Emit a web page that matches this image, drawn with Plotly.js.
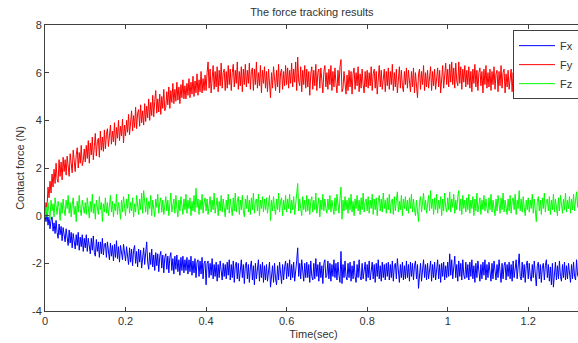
<!DOCTYPE html>
<html>
<head>
<meta charset="utf-8">
<script src="https://cdn.plot.ly/plotly-3.0.1.min.js"></script>
<style>
html,body{margin:0;padding:0;overflow:hidden;background:#fff;}
#chart{width:582px;height:343px;}
</style>
</head>
<body>
<div id="chart"></div>
<script>
// sampling step of the recorded signals (s)
var dt = 0.0025;

var seriesNames = ['Fx', 'Fy', 'Fz'];

var fx = [
0.00,-0.25,0.10,-0.40,-0.05,-0.55,-0.20,-0.05,-0.65,-0.30,-0.75,-0.20,-0.70,-0.95,-0.35,-0.80,-0.45,-1.05,-0.50,-0.85,
-1.10,-0.55,-1.00,-1.25,-0.60,-1.15,-0.70,-1.35,-0.75,-1.20,-1.40,-0.80,-1.25,-0.70,-1.45,-0.90,-1.30,-0.80,-1.50,-0.95,
-1.35,-0.80,-1.50,-0.95,-1.40,-1.60,-0.95,-1.45,-0.85,-1.55,-1.70,-1.00,-1.50,-1.10,-1.75,-1.10,-1.60,-0.95,-1.65,-1.20,
-1.15,-1.75,-1.10,-1.65,-1.85,-1.15,-1.70,-1.25,-1.90,-1.20,-1.75,-1.05,-1.80,-1.30,-1.95,-1.25,-1.70,-1.85,-1.20,-1.70,
-1.90,-1.30,-1.80,-2.05,-1.35,-1.95,-1.40,-2.10,-1.45,-1.25,-2.00,-1.50,-2.15,-1.40,-1.95,-1.45,-2.20,-1.55,-1.35,-2.05,
-1.50,-1.10,-1.95,-2.25,-1.55,-2.05,-1.40,-2.15,-1.65,-2.30,-1.55,-2.10,-1.60,-2.35,-1.70,-1.50,-2.20,-1.65,-2.40,-1.75,
-1.60,-2.25,-1.70,-2.40,-1.75,-1.55,-2.30,-1.80,-2.45,-1.70,-2.25,-1.65,-2.35,-1.85,-2.50,-1.75,-2.30,-1.70,-2.40,-1.85,
-2.30,-1.75,-2.45,-1.85,-2.35,-1.70,-2.50,-1.90,-2.40,-1.80,-2.60,-1.95,-1.85,-2.55,-1.90,-2.45,-1.75,-2.65,-2.00,-1.90,
-2.90,-2.00,-1.90,-2.60,-2.00,-2.50,-1.80,-2.65,-2.05,-2.55,-1.95,-2.75,-2.05,-2.60,-1.90,-2.50,-2.70,-2.00,-2.55,-2.05,
-2.65,-1.95,-2.50,-1.85,-2.70,-2.05,-2.60,-1.90,-2.80,-2.10,-1.95,-2.65,-2.00,-2.75,-2.15,-1.85,-2.60,-2.05,-2.85,-2.10,
-1.95,-2.65,-2.05,-2.80,-2.15,-1.90,-2.70,-2.10,-2.90,-2.00,-2.65,-2.15,-1.85,-2.75,-2.05,-2.60,-1.95,-2.80,-2.10,-2.70,
-2.05,-2.75,-2.15,-1.95,-3.00,-2.60,-2.10,-2.80,-2.00,-2.65,-2.90,-2.10,-2.70,-1.95,-2.60,-2.85,-2.05,-2.70,-2.15,-1.90,
-2.65,-2.00,-2.55,-1.85,-2.70,-2.05,-2.60,-1.95,-2.75,-2.10,-1.90,-1.35,-2.55,-2.00,-2.65,-1.85,-2.50,-2.75,-2.00,-2.60,
-1.95,-2.60,-2.05,-2.80,-1.90,-2.55,-2.70,-2.00,-2.65,-1.80,-2.55,-2.05,-2.75,-1.95,-2.60,-2.10,-2.85,-2.00,-1.85,-2.60,
-2.50,-1.90,-2.65,-2.00,-2.75,-2.05,-2.55,-1.85,-2.60,-2.00,-2.70,-1.95,-2.50,-2.80,-1.50,-2.85,-2.05,-2.60,-1.90,-2.55,
-2.70,-2.00,-2.60,-1.95,-2.75,-2.10,-2.65,-1.90,-2.55,-2.80,-2.05,-2.60,-1.85,-2.55,-2.70,-2.00,-2.65,-2.10,-1.95,-2.75,
-2.05,-2.60,-1.90,-2.70,-2.10,-1.95,-2.65,-2.05,-2.80,-2.00,-2.55,-1.85,-2.65,-2.10,-2.75,-1.95,-2.60,-2.05,-2.70,-2.00,
-2.55,-1.95,-2.70,-2.05,-2.60,-1.90,-2.75,-2.10,-2.00,-2.65,-1.80,-2.55,-2.80,-2.05,-2.60,-1.95,-2.70,-2.10,-2.65,-1.90,
-2.60,-2.05,-2.75,-1.95,-2.55,-2.00,-2.70,-2.10,-1.90,-2.65,-2.05,-3.05,-2.55,-2.00,-2.75,-2.10,-1.85,-2.60,-2.05,-2.70,
-2.00,-2.65,-2.10,-1.90,-2.75,-2.05,-2.60,-1.95,-2.70,-2.15,-1.85,-2.65,-2.05,-2.80,-2.00,-2.55,-1.95,-2.70,-2.10,-2.60,
-1.95,-2.55,-1.60,-2.50,-1.85,-2.65,-2.00,-1.70,-2.60,-2.05,-2.75,-1.90,-2.55,-2.00,-2.70,-1.85,-2.50,-2.65,-1.95,-2.60,
-2.05,-2.70,-1.95,-2.55,-1.85,-2.65,-2.10,-2.80,-2.00,-2.60,-1.90,-2.55,-2.75,-2.05,-2.65,-1.95,-2.50,-1.85,-2.70,-2.05,
-2.60,-1.95,-2.55,-2.75,-2.00,-2.65,-1.90,-2.50,-2.70,-2.05,-2.60,-1.85,-2.55,-2.80,-2.00,-2.65,-2.10,-1.95,-2.70,-2.05,
-2.55,-1.95,-2.65,-2.05,-2.75,-1.90,-2.60,-2.10,-1.85,-2.65,-2.00,-1.60,-2.55,-2.70,-1.95,-2.60,-2.05,-2.80,-2.10,-1.90,
-2.65,-2.00,-2.55,-2.75,-2.05,-2.60,-1.90,-2.70,-2.95,-2.10,-1.95,-2.65,-2.05,-2.80,-2.15,-2.00,-2.70,-2.10,-1.85,-2.60,
-2.05,-2.75,-2.15,-2.90,-2.00,-3.00,-2.60,-1.95,-2.70,-2.10,-2.65,-1.90,-2.55,-2.75,-2.05,-2.60,-1.95,-2.70,-2.10,-2.65,
-2.00,-2.60,-2.80,-2.05,-2.65,-1.95,-2.55,-2.70,-1.85,-2.50,-2.60
];

var fy = [
0.00,0.55,0.35,1.20,0.75,1.45,0.95,1.75,1.20,1.95,1.35,2.20,1.55,1.40,2.35,1.65,2.25,1.50,2.45,1.85,
2.35,1.70,2.50,2.10,1.65,2.60,2.20,1.80,2.75,2.15,1.85,2.55,2.85,2.00,2.65,2.20,2.95,2.10,2.30,2.80,
2.25,2.95,2.40,3.15,2.20,3.05,2.55,3.30,2.35,2.90,3.45,2.50,3.10,3.25,2.45,3.55,2.75,3.30,2.70,3.60,
2.80,3.40,3.65,2.90,3.45,3.80,3.00,3.55,3.10,3.90,2.95,3.70,3.25,4.00,3.15,3.75,3.35,4.05,3.05,3.80,
3.35,4.00,3.50,4.25,3.40,4.10,4.40,3.55,4.20,3.70,4.55,3.65,4.30,4.45,3.75,4.65,3.90,4.40,3.80,4.70,
3.95,4.60,4.10,4.90,4.00,4.75,4.20,5.05,4.15,4.80,5.25,4.30,4.90,4.35,5.10,4.25,5.00,4.50,5.30,4.40,
4.55,5.20,4.65,5.40,4.50,5.25,4.75,5.55,4.70,5.30,4.80,5.60,4.85,5.40,4.70,5.50,4.95,5.70,4.90,5.45,
4.90,5.55,5.05,5.75,4.95,5.60,5.10,5.85,5.00,5.65,5.15,5.95,5.05,5.70,5.20,6.05,5.15,5.75,5.25,5.90,
5.25,6.00,6.45,5.35,6.15,5.15,5.90,6.30,5.30,6.05,5.40,6.25,5.20,6.10,5.45,6.40,5.35,6.00,6.15,5.25,
6.05,5.35,6.30,5.50,6.15,5.25,6.00,6.35,5.40,6.10,5.55,6.45,5.30,6.05,5.45,6.25,5.20,6.15,5.50,6.35,
5.40,6.10,5.55,6.40,5.30,6.05,6.20,5.25,6.15,5.50,6.45,5.35,6.00,5.45,6.30,5.15,6.10,5.55,6.25,5.35,
6.05,5.20,6.15,5.45,4.95,6.00,5.35,6.25,5.50,5.25,6.10,5.40,6.35,5.15,6.00,6.15,5.30,6.05,5.45,6.30,
5.50,6.20,5.35,6.10,5.55,6.40,5.40,6.15,5.60,6.45,5.25,6.65,5.65,5.45,6.25,5.20,6.10,5.50,6.30,5.35,
6.15,5.40,6.05,5.05,5.95,6.25,5.30,6.10,5.45,6.35,5.25,6.00,6.15,5.35,6.20,5.50,5.15,6.05,6.30,5.40,
6.00,5.30,6.15,5.50,6.30,5.25,6.05,5.40,6.20,5.55,5.15,6.10,5.45,6.25,6.55,5.20,5.35,6.05,5.50,5.10,
5.90,5.25,6.10,5.40,6.05,5.10,5.95,6.20,5.30,6.00,5.45,6.25,5.20,5.95,5.35,6.15,5.50,5.15,6.05,5.40,
6.10,5.35,6.00,5.45,6.25,5.25,5.95,6.15,5.35,6.05,5.10,6.00,6.30,5.40,6.10,5.30,5.95,6.15,5.20,6.05,
5.45,6.20,5.30,6.05,5.50,6.35,5.25,6.00,5.40,6.15,5.15,5.95,6.25,5.35,6.10,5.45,5.20,6.05,5.50,6.20,
5.35,6.10,5.55,5.20,6.05,5.40,6.20,5.15,6.00,5.45,4.95,5.95,6.15,5.30,6.05,5.50,6.30,5.25,6.00,5.40,
6.10,5.35,5.95,6.25,5.25,6.05,5.45,6.15,5.30,6.00,6.20,5.40,6.10,5.15,5.95,6.30,5.35,6.05,6.40,5.50,
6.15,5.40,6.35,5.60,6.45,5.50,6.20,5.35,6.40,5.65,5.45,6.45,5.55,6.25,5.30,6.15,5.60,6.30,5.40,6.10,
5.50,6.25,5.35,6.05,5.20,6.15,5.55,6.35,5.40,6.10,5.25,6.00,6.20,5.45,6.05,5.15,6.15,5.50,6.30,5.35,
6.00,5.40,6.15,5.25,6.05,5.50,6.25,5.30,5.95,6.10,5.20,6.05,5.45,6.30,5.35,6.00,6.15,5.15,5.95,5.40,
6.10,5.30,5.95,6.15,5.20,6.00,5.40,6.25,5.25,5.90,6.05,5.10,5.95,5.35,6.20,5.45,6.05,5.20,5.90,6.15,
5.35,6.00,5.20,5.90,6.15,4.95,5.85,6.05,5.25,5.95,5.10,6.10,5.40,6.00,5.00,5.90,6.15,5.30,5.95,5.20,
6.05,5.35,4.90,5.90,5.25,6.10,5.40,6.00,5.15,5.95,6.20,5.30,5.85,6.05,5.20,6.15,5.35,5.95,5.10,5.90,
6.10,5.35,6.00,5.20,5.95,5.40,6.20,5.25,5.90,6.05,5.40
];

var fz = [
0.00,0.35,-0.05,0.55,0.15,-0.15,0.65,0.20,0.50,-0.05,0.75,0.25,0.05,0.60,0.35,-0.20,0.55,0.10,0.70,0.25,
0.00,0.65,0.30,0.85,0.10,0.55,-0.05,0.45,0.75,0.05,0.40,-0.25,0.60,0.15,0.85,0.25,0.00,0.65,0.30,0.10,
0.55,0.05,0.75,0.25,-0.10,0.60,0.15,0.90,0.10,0.50,-0.15,0.65,0.30,0.05,0.80,0.25,0.55,-0.25,0.50,0.15,
0.75,0.10,0.55,0.00,0.40,0.85,0.15,0.60,-0.05,0.50,0.20,0.90,0.05,0.55,0.30,-0.15,0.65,0.15,0.80,0.25,
0.00,0.70,0.30,0.90,0.10,0.55,0.20,0.75,-0.05,0.50,0.15,0.85,0.40,0.05,0.70,0.25,0.95,0.10,1.05,0.35,
0.15,0.75,0.05,0.60,0.30,0.85,0.00,0.65,0.20,-0.05,0.70,0.35,0.90,0.10,0.55,0.75,0.15,0.65,0.05,0.50,
0.80,0.20,0.65,0.00,0.55,0.95,0.15,0.50,0.70,0.10,0.85,0.30,-0.05,0.65,0.20,0.80,0.40,0.05,0.70,0.25,
0.90,0.10,0.65,0.30,0.75,0.00,0.60,0.20,0.85,0.15,1.15,0.35,0.70,0.05,0.65,0.25,0.90,0.10,0.55,0.75,
0.20,0.70,0.05,0.60,0.80,0.15,0.65,0.25,0.95,0.10,0.50,0.75,0.00,0.60,0.20,0.85,0.15,0.70,0.35,-0.05,
0.65,0.25,0.90,0.10,0.70,0.30,0.00,0.75,0.20,0.95,0.15,0.60,0.80,0.05,0.65,0.25,0.85,0.20,-0.05,0.70,
0.30,0.85,0.15,0.65,0.05,0.75,0.25,0.95,0.10,0.60,0.70,0.20,0.90,0.00,0.65,0.30,0.80,0.15,0.70,0.25,
0.75,0.10,0.60,0.85,-0.20,0.65,0.20,0.80,0.30,0.05,0.70,0.25,0.95,0.15,0.60,0.75,0.00,0.65,0.25,0.85,
0.15,0.70,0.30,0.90,0.10,0.65,0.25,0.80,0.05,0.60,0.75,1.35,0.20,0.70,0.30,0.00,0.80,0.25,0.65,0.15,
0.85,0.20,0.70,0.05,0.60,0.80,0.15,0.65,0.25,0.95,0.10,0.60,0.75,-0.05,0.65,0.25,0.90,0.20,0.70,0.30,
0.10,0.70,0.25,0.85,0.15,0.65,0.30,0.05,0.75,0.20,0.90,0.35,0.10,0.70,1.20,-0.15,0.65,0.20,0.80,0.25,
0.65,0.10,0.75,0.25,0.90,0.15,0.60,0.00,0.70,0.30,0.85,0.20,0.65,0.05,0.75,0.25,0.95,0.15,0.60,0.70,
0.20,0.80,0.10,0.65,0.30,0.90,0.05,0.70,0.25,0.75,0.00,0.60,0.85,0.20,0.70,0.15,0.95,0.30,0.65,0.10,
0.75,0.25,0.90,0.10,0.60,0.70,0.05,0.80,0.20,0.65,1.00,0.15,0.60,0.25,0.85,0.00,0.70,0.30,0.80,0.20,
0.65,0.10,0.75,0.30,0.90,0.15,0.70,0.25,0.00,0.65,0.20,-0.25,0.60,0.80,0.15,0.70,0.95,0.25,0.65,0.10,
0.60,0.85,0.20,1.05,0.30,0.70,0.05,0.75,0.25,0.90,0.10,0.65,0.30,0.80,0.00,0.70,0.20,0.95,0.35,0.15,
0.75,0.25,1.00,0.15,0.70,0.35,0.90,0.10,0.65,0.25,0.80,1.05,0.20,0.70,0.05,0.85,0.30,0.65,0.15,0.75,
0.25,0.90,0.10,0.65,0.30,0.80,0.00,0.70,0.20,0.95,0.15,0.60,0.75,0.05,0.65,0.25,0.85,0.20,0.70,0.30,
0.10,0.75,0.25,0.90,0.15,0.65,0.30,0.00,0.70,0.20,0.85,0.35,0.10,0.75,0.25,0.95,0.15,0.65,0.30,0.05,
0.70,0.20,0.85,0.10,0.60,0.75,0.25,0.90,0.05,0.65,0.30,1.05,0.20,0.70,0.15,0.80,0.35,0.00,0.65,0.25,
0.75,0.15,0.65,0.30,0.90,0.10,0.70,0.25,-0.25,0.60,0.80,0.20,0.65,0.05,0.75,0.30,0.95,0.15,0.60,0.70,
0.20,0.80,0.05,0.65,0.25,0.90,0.15,0.70,0.30,0.00,0.75,0.20,0.85,0.35,0.10,0.70,0.25,0.95,0.15,0.65,
0.30,0.80,0.10,0.70,0.25,0.90,0.20,0.65,1.00,0.35,1.30
];

var xTickVals = [0, 0.2, 0.4, 0.6, 0.8, 1, 1.2];
var xTickText = ['0', '0.2', '0.4', '0.6', '0.8', '1', '1.2'];
var yTickVals = [-4, -2, 0, 2, 4, 6, 8];
var yTickText = ['-4', '-2', '0', '2', '4', '6', '8'];

function timeAxis(n) {
  var t = [];
  for (var i = 0; i < n; i++) t.push(+(i * dt).toFixed(4));
  return t;
}

var colors = ['#0000ff', '#ff0000', '#00ff00'];
var data = [fx, fy, fz].map(function (vals, k) {
  return {
    x: timeAxis(vals.length),
    y: vals,
    type: 'scatter',
    mode: 'lines',
    name: seriesNames[k],
    line: {color: colors[k], width: 1}
  };
});

var FONT = '"Liberation Sans", Arial, Helvetica, sans-serif';
var axisCommon = {
  showline: true,
  linecolor: '#404040',
  linewidth: 1,
  mirror: 'ticks',
  ticks: 'inside',
  ticklen: 4,
  tickcolor: '#404040',
  showgrid: false,
  zeroline: false,
  tickfont: {family: FONT, size: 11, color: '#333'}
};

var layout = {
  width: 582,
  height: 343,
  margin: {l: 45, r: 0, t: 25, b: 32},
  paper_bgcolor: '#fff',
  plot_bgcolor: '#fff',
  font: {family: FONT, size: 11, color: '#333'},
  title: {
    text: 'The force tracking results',
    font: {family: FONT, size: 11, color: '#333'},
    x: 0.497, xref: 'paper', xanchor: 'center',
    y: 0.965, yanchor: 'middle'
  },
  xaxis: Object.assign({}, axisCommon, {
    range: [0, 537 / 402.7],
    tickmode: 'array', tickvals: xTickVals, ticktext: xTickText,
    title: {text: 'Time(sec)', font: {family: FONT, size: 11, color: '#333'}, standoff: 4}
  }),
  yaxis: Object.assign({}, axisCommon, {
    range: [-4, 8],
    tickmode: 'array', tickvals: yTickVals, ticktext: yTickText,
    title: {text: 'Contact force (N)', font: {family: FONT, size: 11, color: '#333'}, standoff: 5}
  }),
  showlegend: true,
  legend: {
    x: (513 - 45) / 537, xanchor: 'left',
    y: 0.982, yanchor: 'top',
    bgcolor: '#fff',
    bordercolor: '#404040',
    borderwidth: 1,
    itemwidth: 36,
    font: {family: FONT, size: 11, color: '#333'},
    tracegroupgap: 0
  }
};

Plotly.newPlot('chart', data, layout, {displayModeBar: false, staticPlot: true});
</script>
</body>
</html>
